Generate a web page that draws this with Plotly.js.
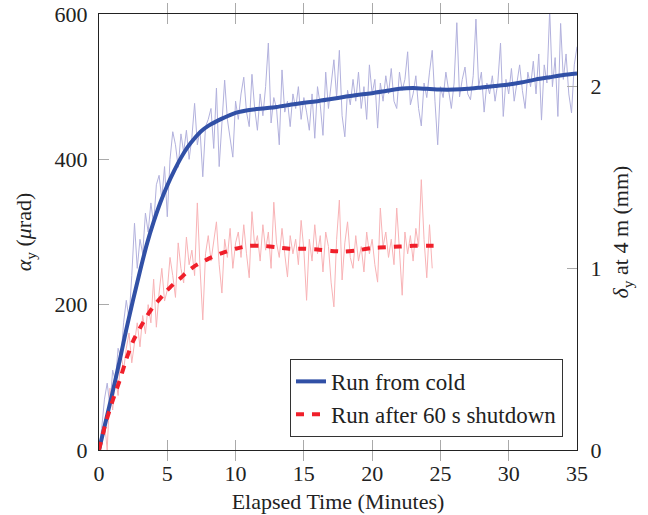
<!DOCTYPE html>
<html><head><meta charset="utf-8">
<script src="https://cdn.plot.ly/plotly-3.0.1.min.js"></script>
<style>html,body{margin:0;padding:0;background:#fff}</style>
</head><body><div id="chart" style="width:648px;height:515px"></div>
<script>
// Sampling interval of the raw recordings (minutes)
const rawStep = 0.2;

// Raw tilt, run from cold (µrad), one value every 0.2 min from t = 0
const coldRaw = [
  0, 30, 70, 92, 60, 110, 95, 140, 125, 175,
  206, 180, 240, 312, 250, 290, 270, 326, 300, 340,
  310, 365, 378, 345, 390, 321, 400, 438, 420, 389,
  435, 410, 440, 400, 430, 477, 420, 440, 376, 445,
  455, 470, 415, 498, 390, 450, 509, 455, 430, 403,
  480, 455, 490, 513, 465, 445, 517, 470, 440, 490,
  460, 500, 560, 450, 485, 470, 420, 523, 465, 480,
  445, 490, 470, 500, 455, 485, 465, 440, 490, 429,
  500, 475, 433, 520, 470, 500, 537, 485, 550, 460,
  431, 495, 475, 510, 480, 520, 470, 500, 455, 530,
  490, 510, 443, 505, 480, 515, 490, 525, 480, 470,
  520, 495, 510, 548, 475, 490, 515, 470, 446, 505,
  485, 520, 550, 480, 420, 500, 485, 520, 495, 470,
  505, 588, 486, 510, 527, 490, 482, 515, 593, 500,
  520, 465, 505, 490, 515, 480, 505, 560, 459, 510,
  490, 525, 480, 505, 530, 495, 470, 520, 500, 535,
  490, 545, 454, 530, 505, 605, 500, 540, 459, 587,
  510, 545, 490, 464, 530, 555
];

// Raw tilt, run after 60 s shutdown (µrad), one value every 0.2 min from t = 0
const shutdownRaw = [
  0, 10, 40, 0, 85, 55, 100, 75, 133, 110,
  140, 161, 120, 150, 175, 142, 185, 160, 200, 175,
  235, 169, 216, 250, 205, 220, 265, 240, 210, 285,
  250, 230, 293, 255, 275, 240, 340, 250, 179, 270,
  295, 260, 285, 314, 255, 216, 290, 265, 305, 250,
  285, 300, 265, 310, 270, 237, 328, 280, 295, 260,
  310, 275, 300, 250, 341, 285, 265, 305, 270, 238,
  295, 270, 290, 255, 316, 275, 206, 290, 260, 310,
  270, 295, 245, 300, 280, 230, 197, 290, 344, 234,
  285, 314, 265, 250, 295, 260, 280, 245, 300, 270,
  290, 255, 231, 333, 280, 300, 265, 290, 255, 333,
  275, 213, 300, 270, 295, 260, 305, 280, 372, 290,
  237, 310, 250
];

// Smoothed trend, run from cold
const coldSmoothT = [0, 0.5, 1, 1.5, 2, 2.5, 3, 3.5, 4, 4.5, 5, 5.5, 6, 6.5, 7, 7.5, 8, 9, 10, 11, 12, 13, 14, 15, 16, 17, 18, 19, 20, 21, 22, 23, 24, 25, 26, 27, 28, 29, 30, 31, 32, 33, 34, 35];
const coldSmoothV = [0, 40, 80, 122, 166, 207, 246, 283, 314, 341, 364, 384, 402, 417, 429, 439, 446, 456, 464, 468, 470, 472, 475, 478, 480, 483, 486, 489, 491, 494, 497, 498, 497, 496, 496, 497, 499, 501, 503, 506, 510, 513, 516, 518];

// Smoothed trend, run after 60 s shutdown
const shutSmoothT = [0, 0.5, 1, 1.5, 2, 2.5, 3, 3.5, 4, 4.5, 5, 5.5, 6, 6.5, 7, 8, 9, 10, 11, 12, 13, 14, 15, 16, 17, 18, 19, 20, 21, 22, 23, 24, 24.5];
const shutSmoothV = [0, 38, 68, 95, 125, 150, 168, 184, 198, 209, 220, 229, 237, 246, 253, 263, 271, 277, 281, 281, 279, 277, 277, 276, 274, 273, 275, 278, 279, 280, 281, 281, 281];

const seriesNames = ['Run from cold', 'Run after 60 s shutdown'];
const xTicks = [0, 5, 10, 15, 20, 25, 30, 35];
const yTicks = [0, 200, 400, 600];
const y2Ticks = [0, 1, 2];

const coldT = coldRaw.map((_, i) => +(i * rawStep).toFixed(2));
const shutT = shutdownRaw.map((_, i) => +(i * rawStep).toFixed(2));

const FONT = '"Liberation Serif", "DejaVu Serif", serif';
const BLUE = '#3150a6';
const RED = '#f01f2a';
const FS = 22;

const traces = [
  {x: coldT, y: coldRaw, type: 'scatter', mode: 'lines', showlegend: false, hoverinfo: 'skip',
   line: {color: '#b2b1dd', width: 1}},
  {x: shutT, y: shutdownRaw, type: 'scatter', mode: 'lines', showlegend: false, hoverinfo: 'skip',
   line: {color: '#f8b3b6', width: 1}},
  {x: coldSmoothT, y: coldSmoothV, type: 'scatter', mode: 'lines', name: seriesNames[0],
   line: {color: BLUE, width: 4, shape: 'spline', smoothing: 0.5}},
  {x: shutSmoothT, y: shutSmoothV, type: 'scatter', mode: 'lines', name: seriesNames[1],
   line: {color: RED, width: 4, dash: '8px,8px', shape: 'spline', smoothing: 0.5}},
  {x: [0], y: [0], yaxis: 'y2', type: 'scatter', mode: 'markers', showlegend: false, hoverinfo: 'skip',
   marker: {opacity: 0}}
];

const tickStyle = {ticks: 'inside', ticklen: 10, tickcolor: '#aaaaaa', tickwidth: 1,
  showline: true, linecolor: '#222', linewidth: 1.2, showgrid: false, zeroline: false,
  tickfont: {family: FONT, size: FS, color: '#222'}};

const layout = {
  width: 648, height: 515,
  margin: {l: 99, r: 71, t: 14, b: 65, pad: 0},
  paper_bgcolor: '#fff', plot_bgcolor: '#fff',
  font: {family: FONT, size: FS, color: '#222'},
  xaxis: Object.assign({}, tickStyle, {
    range: [0, 35], tickvals: xTicks, mirror: 'allticks', ticklabelstandoff: 3,
    title: {text: 'Elapsed Time (Minutes)', font: {family: FONT, size: FS, color: '#222'}, standoff: 9}
  }),
  yaxis: Object.assign({}, tickStyle, {
    range: [0, 600], tickvals: yTicks, ticklabelstandoff: 6,
    title: {text: '<i>α</i><sub>y</sub> (<i>μ</i>rad)', font: {family: FONT, size: FS, color: '#222'}, standoff: 16}
  }),
  yaxis2: Object.assign({}, tickStyle, {
    range: [0, 2.4], tickvals: y2Ticks, overlaying: 'y', side: 'right', ticklabelstandoff: 8,
    title: {text: '<i>δ</i><sub>y</sub> at 4 m (mm)', font: {family: FONT, size: FS, color: '#222'}, standoff: 12}
  }),
  legend: {x: 0.9707, y: 0.03, xanchor: 'right', yanchor: 'bottom',
    bgcolor: '#fff', bordercolor: '#333', borderwidth: 1,
    font: {family: FONT, size: 23, color: '#222'}, tracegroupgap: 0}
};

Plotly.newPlot('chart', traces, layout, {staticPlot: true, displayModeBar: false});
</script></body></html>
